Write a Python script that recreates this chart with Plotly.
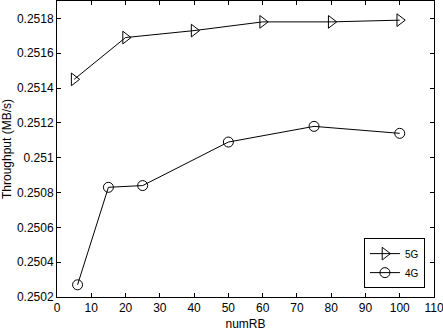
import plotly.graph_objects as go

x5g = [5, 20, 40, 60, 80, 100]
y5g = [0.25145, 0.25169, 0.25173, 0.25178, 0.25178, 0.25179]
x4g = [6, 15, 25, 50, 75, 100]
y4g = [0.25027, 0.25083, 0.25084, 0.25109, 0.25118, 0.25114]
xticks = list(range(0, 111, 10))
yticks = [0.2502, 0.2504, 0.2506, 0.2508, 0.2510, 0.2512, 0.2514, 0.2516, 0.2518]
yticklabels = ["0.2502", "0.2504", "0.2506", "0.2508", "0.251", "0.2512", "0.2514", "0.2516", "0.2518"]

FONT = "Liberation Sans, Arial"
fig = go.Figure()
fig.add_trace(go.Scatter(x=x5g, y=y5g, mode="lines+markers", name="5G",
                         line=dict(color="black", width=1),
                         marker=dict(symbol="triangle-right-open", size=11, color="black", line=dict(width=1))))
fig.add_trace(go.Scatter(x=x4g, y=y4g, mode="lines+markers", name="4G",
                         line=dict(color="black", width=1),
                         marker=dict(symbol="circle-open", size=10, color="black", line=dict(width=1))))

axis_common = dict(showgrid=False, zeroline=False, showline=True, linecolor="black", linewidth=1,
                   mirror="ticks", ticks="inside", ticklen=4, tickcolor="black", automargin=False,
                   ticklabeloverflow="allow",
                   tickfont=dict(family=FONT, size=12, color="black"))
fig.update_xaxes(range=[0, 110], tickvals=xticks, title=dict(text="numRB", standoff=5,
                 font=dict(family=FONT, size=12, color="black")), **axis_common)
fig.update_yaxes(range=[0.2502, 0.2519], tickvals=yticks, ticktext=yticklabels,
                 title=dict(text="Throughput (MB/s)", standoff=3,
                            font=dict(family=FONT, size=12, color="black")), **axis_common)

fig.update_layout(width=443, height=331, margin=dict(l=57, r=9, t=1, b=34),
                  plot_bgcolor="white", paper_bgcolor="white",
                  font=dict(family=FONT, size=12, color="black"),
                  legend=dict(x=0.976, y=0.03, xanchor="right", yanchor="bottom",
                              bordercolor="black", borderwidth=1, bgcolor="white",
                              font=dict(size=10), itemwidth=30, tracegroupgap=0))
fig.write_html("out.html", config={"displayModeBar": False},
               post_script="document.body.style.margin='0px';document.body.style.overflow='hidden';")
